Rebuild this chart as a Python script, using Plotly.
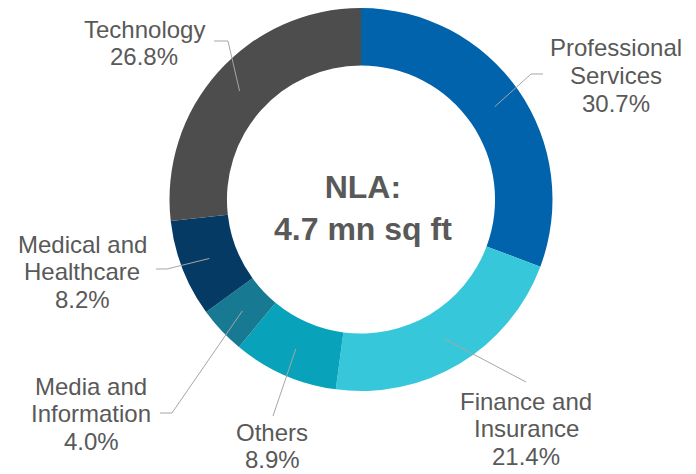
import numpy as np
import plotly.graph_objects as go

W, H = 696, 474

# data
sectors = ["Professional Services", "Finance and Insurance", "Others",
           "Media and Information", "Medical and Healthcare", "Technology"]
shares = [30.7, 21.4, 8.9, 4.0, 8.2, 26.8]
label_lines = [["Professional", "Services"], ["Finance and", "Insurance"], ["Others"],
               ["Media and", "Information"], ["Medical and", "Healthcare"], ["Technology"]]
centre_text = ["NLA:", "4.7 mn sq ft"]

# styling / placement
colors = ["#0063AB", "#37C7DA", "#08A3BA", "#177A92", "#053A64", "#4D4D4D"]
TXT = "#595959"
LINE = "#A6A6A6"
OFF = 8  # page body margin in the browser
CX, CY, R = 361, 199.5, 191.5
HOLE = 0.70
FS = 24
LH = 27.5
# (text centre x, first line y, leader points after the slice anchor)
label_pos = [
    (616, 48, [(531, 74), (543, 74)]),
    (526, 401, [(526, 382)]),
    (272, 432, [(273, 416)]),
    (91, 386, [(172, 413), (160, 413)]),
    (82, 244, [(167, 269), (156, 269)]),
    (144, 29, [(228, 41), (214, 41)]),
]


def px(x, y):
    return (x - OFF) / W, 1 - (y - OFF) / H


fig = go.Figure()
x0, y0 = px(CX - R, CY + R)
x1, y1 = px(CX + R, CY - R)
fig.add_trace(go.Pie(
    labels=sectors, values=shares, sort=False, direction="clockwise", rotation=0,
    hole=HOLE, textinfo="none", hoverinfo="label+percent",
    marker=dict(colors=colors, line=dict(width=0)),
    domain=dict(x=[max(x0, 0), min(x1, 1)], y=[max(y0, 0), min(y1, 1)]),
    showlegend=False,
))

annotations = []
shapes = []
cum = np.cumsum([0] + shares[:-1])
total = sum(shares)
r_mid = R * (1 + HOLE) / 2
for i, s in enumerate(shares):
    ang = 2 * np.pi * (cum[i] + s / 2) / total
    sx, sy = CX + r_mid * np.sin(ang), CY - r_mid * np.cos(ang)
    tx, ty, pts = label_pos[i]
    path_pts = [(sx, sy)] + pts
    path = "M " + " L ".join(f"{px(x, y)[0]:.5f},{px(x, y)[1]:.5f}" for x, y in path_pts)
    shapes.append(dict(type="path", xref="paper", yref="paper", path=path,
                       line=dict(color=LINE, width=1)))
    lines = label_lines[i] + [f"{s:.1f}%"]
    for j, t in enumerate(lines):
        xx, yy = px(tx, ty + j * LH)
        annotations.append(dict(text=t, x=xx, y=yy, xref="paper", yref="paper",
                                xanchor="center", yanchor="middle", showarrow=False,
                                font=dict(size=FS, color=TXT)))

xx, yy = px(CX + 2, CY + 8)
annotations.append(dict(text="<br>".join(f"<b>{t}</b>" for t in centre_text), x=xx, y=yy,
                        xref="paper", yref="paper", showarrow=False,
                        xanchor="center", yanchor="middle",
                        font=dict(size=32, color=TXT)))

fig.update_layout(
    width=W, height=H, margin=dict(l=0, r=0, t=0, b=0),
    paper_bgcolor="white", plot_bgcolor="white",
    font=dict(family="Liberation Sans, Arial, sans-serif", color=TXT),
    annotations=annotations, shapes=shapes,
)

fig.write_html("out.html")
